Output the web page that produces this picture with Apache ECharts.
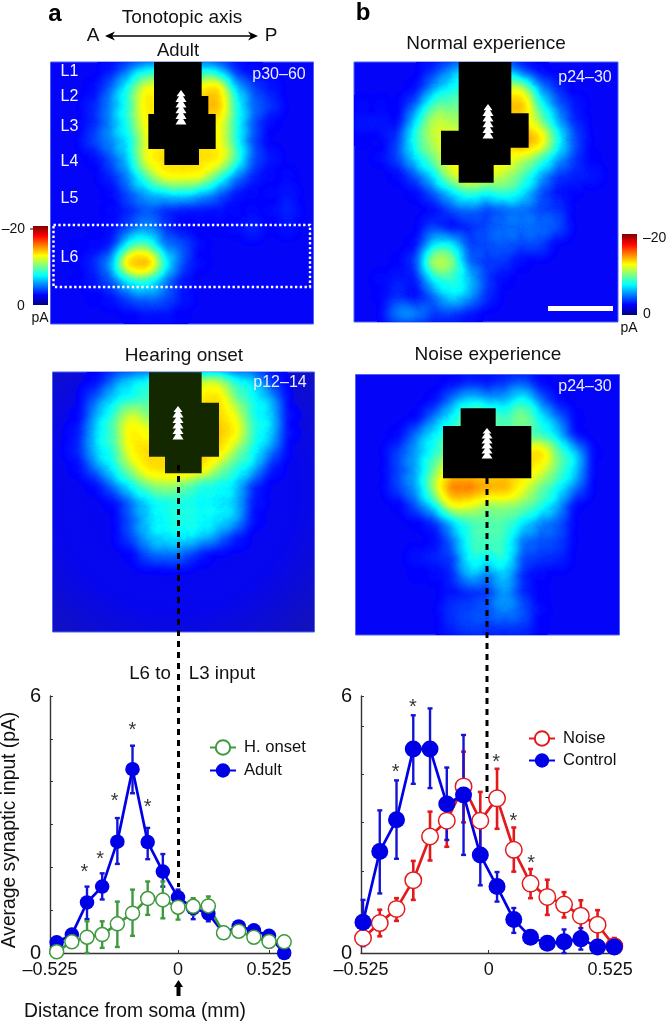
<!DOCTYPE html>
<html><head><meta charset="utf-8">
<style>html,body{margin:0;padding:0;background:#fff}#c{width:666px;height:1022px}</style>
<script src="https://cdn.jsdelivr.net/npm/echarts@6/dist/echarts.min.js"></script>
</head><body><div id="c"></div>
<script>
// ---- heat maps: 15 x 15 stimulation grid, pA magnitude above background ----
const mapAdult = [
[0,0,0,1,4,7,7,7,7,6,1.5,.5,0,0,0],
[0,0,.5,3.5,8,13,12,12,13,15,6,2.5,1,0,0],
[0,0,1.5,4.5,8,14,13,13,15,16,8,3.5,2,0,0],
[0,0,1.5,4.5,8,13,13,13,13,13,8,3,.5,0,0],
[0,0,2.5,4.5,6.5,12,13,13,13,13,8,2.5,0,0,0],
[0,0,.5,3,6,13,14,14,14,14,9.5,3,1,0,0],
[0,0,0,1.5,4.5,9,13,13,13,9,4.5,1.5,.5,.5,0],
[0,0,0,.5,3,5,6,7,5.5,3.5,1,.5,.5,1,0],
[0,0,0,.5,1.5,3,1.5,.8,.8,.8,.5,.5,.5,1.5,0],
[0,0,.2,.7,2.5,4.5,2,.5,.3,.3,.5,1.5,.3,.8,0],
[0,.2,.5,1,8,9,3.5,3,.5,0,0,0,0,0,0],
[0,.2,1.5,5,16,17,8,2.5,.5,0,0,0,0,0,0],
[0,.2,1,3,7,8,4,1,0,0,0,0,0,0,0],
[0,0,.3,.8,2.5,3.5,3,1,0,0,0,0,0,0,0],
[0,0,0,0,.3,.8,.8,.3,0,0,0,0,0,0,0]];
const mapOnset = [
[0,0,.5,3.5,6,7,8,8,11,11,7,6,1.5,0,0],
[0,0,3,6,7,8,10,10,13,14,9,7,5,0,0],
[0,.3,5,8,12,9,10,11,14,14,12,7,6,.5,0],
[0,1,6,8.5,13.5,12,11,12,14,15,13,7.5,6,.5,0],
[0,1.5,6,7.5,13,14,13,13,14,14,10,7,4,0,0],
[0,.5,4,7,10.5,14,14,15,14,10,7.5,6,1,0,0],
[0,0,.5,4,7,9.5,10.5,9,7,7,6,1.5,0,0,0],
[0,0,0,.5,3.5,6,7,7,6.5,6.5,5.5,1,0,0,0],
[0,0,0,0,3,6,7,7.5,7,6.5,5.5,.5,0,0,0],
[0,0,0,0,2.5,5.5,6.5,6.5,6,4,1,0,0,0,0],
[0,0,0,0,.3,3,3.5,3,.8,0,0,0,0,0,0],
[0,0,0,0,0,0,0,0,0,0,0,0,0,0,0],
[0,0,0,0,0,0,0,0,0,0,0,0,0,0,0],
[0,0,0,0,0,0,0,0,0,0,0,0,0,0,0],
[0,0,0,0,0,0,0,0,0,0,0,0,0,0,0]];
const mapNormal = [
[0,0,0,0,1.5,4.5,6,6,6,2,.5,0,0,0,0],
[0,0,0,.5,4.5,7,8,9,11,12,4.5,1.5,0,0,0],
[.5,.5,.3,3,9,9,9,10,15,16,8,3.5,1,0,0],
[1,1,.3,6.5,11.5,10.5,10,11,13,13,10.5,5.5,1.5,0,0],
[.3,0,2,8,11,12.5,11,11,13,18,15,8,2.5,0,0],
[0,.5,2.5,6.5,9.5,12.5,12,12,13,11,9,5.5,2,.3,0],
[0,0,.5,3,6.5,11.5,13.5,12,11,9,5.5,2,1.5,1,0],
[0,0,0,.5,3,6,8.5,7,8.5,7,3,1,.3,0,0],
[0,0,0,0,.5,2.5,3.5,2,3,3.5,2.5,2,0,0,0],
[0,0,0,0,2,.3,1.5,2.5,3.5,3.5,3.5,3,0,0,0],
[0,0,0,.5,6,7,2,2.5,3,2.5,2.5,0,0,0,0],
[0,0,.3,2,12,11,3,2,2,.5,0,0,0,0,0],
[0,.5,1,1,7,8,6,2,.5,0,0,0,0,0,0],
[0,.3,1.5,.5,3,7,5,1.5,0,0,0,0,0,0,0],
[0,0,4.5,4.5,2,2,1,0,0,0,0,0,0,0,0]];
const mapNoise = [
[0,0,0,0,0,.5,1.5,1,2,3,.5,0,0,0,0],
[0,0,0,0,.5,4,6.5,5,5,8,3.5,.5,0,0,0],
[0,0,0,.3,4,7,10,10,8,10.5,7,3.5,.3,0,0],
[0,0,.5,4,7,8,8,8,8,8,8,6,.5,0,0],
[0,0,2.5,5,7.5,10,10,10,11,13,15,9,6,.3,0],
[0,0,2.5,5,9.5,14,13,13,14,14,12,9,6,0,0],
[0,0,2.5,5,11,18,18,16,16,12,9,7,3.5,0,0],
[0,0,.3,3,7,13,12,9.5,10,9.5,8,5,.3,0,0],
[0,0,0,.3,1.5,5.5,8,8.5,8.5,6.5,4,3,0,0,0],
[0,0,0,0,.5,3.5,8,8.5,8,3.5,3,2.5,0,0,0],
[0,0,0,.8,1.5,2,7.5,7,8,2.5,2,1.5,0,0,0],
[0,0,0,.3,.5,1.5,6,3.5,6,1.5,.5,0,0,0,0],
[0,0,0,0,0,1,1.5,2,5,1.5,.3,0,0,0,0],
[0,0,0,0,0,2,2.5,3,4.5,3,.5,0,0,0,0],
[0,0,0,0,0,1.5,2.5,2,2,2,.3,0,0,0,0]];

// ---- panel a line chart ----
const xA = [0,1,2,3,4,5,6,7,8,9,10,11,12,13,14,15];
const adult = [.25,.43,1.18,1.55,2.6,4.29,2.59,1.9,1.3,1.05,.92,.47,.62,.53,.4,0];
const adultLow = [.2,.38,.79,1.25,2.08,3.73,2.19,1.55,1.12,.79,.74,.42,.55,.47,.35,0];
const adultHigh = [.3,.48,1.55,1.86,3.15,4.84,2.92,2.31,1.48,1.24,1.09,.52,.69,.59,.45,0];
const onset = [.03,.26,.37,.43,.68,.93,1.27,1.24,1.07,1.09,1.1,.47,.51,.37,.27,.26];
const onsetLow = [.01,.2,0,.12,.14,.4,.89,.81,.78,.89,.85,.42,.45,.32,.22,.21];
const onsetHigh = [.05,.32,.74,.74,1.2,1.48,1.67,1.67,1.32,1.28,1.32,.52,.57,.42,.32,.31];
const starsA = [[1.82,1.98],[2.86,2.28],[3.82,3.63],[5,5.28],[6,3.48]];
// ---- panel b line chart ----
const noise = [.35,.7,1.03,1.7,2.72,3.09,3.89,3.09,3.61,2.41,1.62,1.31,1.13,.87,.66,.16];
const noiseLow = [.2,.39,.75,1.24,2.16,2.48,3.05,2.41,2.9,1.9,1.28,.89,.83,.5,.23,0];
const noiseHigh = [.5,1.01,1.28,2.15,3.3,3.3,4.7,3.76,4.3,2.93,1.96,1.71,1.42,1.23,1.0,.35];
const control = [.72,2.37,3.11,4.76,4.76,3.48,3.69,2.29,1.55,.78,.37,.23,.26,.33,.14,.14];
const controlLow = [.16,1.39,2.2,3.95,3.85,2.64,2.29,1.58,1.2,.47,.25,.1,0,.08,.05,.05];
const controlHigh = [1.24,3.33,4.03,5.55,5.71,4.33,5.09,3.0,1.89,1.05,.5,.36,.55,.58,.25,.25];
const starsB = [[1.95,4.31],[2.98,5.83],[7.95,4.55],[8.97,3.16],[10.04,2.19]];

const xTickA = [-0.44,8,14], xTickB = [-0.12,7.5,14.75];
const xLabels = ['–0.525','0','0.525'];
const yMinorA = [0,1,2,3,4,5,6], yMinorB = [0,.79,1.92,3.05,4.17,5.3,6];

// ---- jet palette ----
const clamp = v => Math.max(0, Math.min(1, v));
const jet = t => { const c = x => Math.round(255 * clamp(1.5 - Math.abs(4 * t - x))); return `rgb(${c(3)},${c(2)},${c(1)})`; };
const GAIN = 0.66;
const palette = [];
for (let k = 0; k < 160; k++) {
  const A = k / 159; let f = A >= 1 ? 1 : clamp(-Math.log(1 - A) / GAIN);
  if (f > 0.55) f = 0.55 + (f - 0.55) * 0.55;
  palette.push(jet(0.125 + 0.875 * f));
}
const FONT = '"Liberation Sans", Arial, sans-serif';
const flatBlue = '#0404f8';
const dimBlue = {type: 'radial', x: .47, y: .45, r: .78, colorStops: [{offset: 0, color: '#0404f8'}, {offset: .6, color: '#0606ee'}, {offset: 1, color: '#1414b4'}]};
const maps = [
 {d: mapAdult, box: [50.5, 62, 263, 262], area: flatBlue},
 {d: mapOnset, box: [52.5, 372, 262, 260], area: dimBlue},
 {d: mapNormal, box: [354, 62, 264, 260], area: flatBlue},
 {d: mapNoise, box: [355.5, 374.5, 264, 260.5], area: flatBlue}];

echarts.registerMap('sq', {type: 'FeatureCollection', features: [{type: 'Feature', properties: {name: 'sq'},
  geometry: {type: 'Polygon', coordinates: [[[0,0],[15,0],[15,15],[0,15],[0,0]]]}}]});

const geos = maps.map(m => ({map: 'sq', left: m.box[0], top: m.box[1], width: m.box[2], height: m.box[3],
  aspectScale: 1, roam: false, silent: true, label: {show: false},
  itemStyle: {areaColor: m.area, borderColor: '#4f63f2', borderWidth: 1}, emphasis: {disabled: true}}));
const heat = maps.map((m, i) => {
  const data = [];
  m.d.forEach((row, r) => row.forEach((v, c) => { if (v > 0) data.push([c + .5, 14.5 - r, v]); }));
  return {type: 'heatmap', coordinateSystem: 'geo', geoIndex: i, data, pointSize: 8, blurSize: 17, minOpacity: 1, maxOpacity: 1, silent: true};
});

// ---- line chart helpers ----
function errBars(name, xs, lo, hi, color, xi, yi, w) {
  return {type: 'custom', xAxisIndex: xi, yAxisIndex: yi, silent: true, clip: false,
    data: xs.map((x, i) => [x, lo[i], hi[i]]), encode: {x: 0, y: [1, 2]},
    renderItem(p, api) {
      const a = api.coord([api.value(0), api.value(1)]), b = api.coord([api.value(0), api.value(2)]);
      const s = {stroke: color, lineWidth: w, fill: null};
      return {type: 'group', children: [
        {type: 'line', shape: {x1: a[0], y1: a[1], x2: b[0], y2: b[1]}, style: s},
        {type: 'line', shape: {x1: a[0]-2.5, y1: a[1], x2: a[0]+2.5, y2: a[1]}, style: s},
        {type: 'line', shape: {x1: b[0]-2.5, y1: b[1], x2: b[0]+2.5, y2: b[1]}, style: s}]};
    }};
}
function line(name, xs, ys, color, filled, size, xi, yi) {
  return {type: 'line', name, xAxisIndex: xi, yAxisIndex: yi, clip: false, silent: true,
    data: xs.map((x, i) => [x, ys[i]]), symbol: 'circle', symbolSize: size,
    lineStyle: {color, width: 2.7}, showSymbol: true,
    itemStyle: filled ? {color} : {color: '#fff', borderColor: color, borderWidth: 1.5}};
}
function stars(data, xi, yi) {
  return {type: 'scatter', xAxisIndex: xi, yAxisIndex: yi, clip: false, silent: true, data, symbolSize: 1,
    itemStyle: {color: 'transparent'},
    label: {show: true, formatter: '*', position: 'inside', offset: [0, 4], color: '#000', fontSize: 20, fontFamily: FONT}};
}
const axisCol = '#333';
function xAxis(grid, min, max, ticks) {
  return {type: 'value', gridIndex: grid, min, max, splitLine: {show: false},
    axisLine: {show: true, onZero: false, lineStyle: {color: axisCol, width: 1.4}},
    axisTick: {show: true, inside: true, length: 3, customValues: ticks, lineStyle: {color: axisCol}},
    axisLabel: {show: true, customValues: ticks, margin: 8, color: '#111', fontSize: 18, fontFamily: FONT,
      showMinLabel: true, showMaxLabel: true, hideOverlap: false,
      formatter: v => xLabels[ticks.indexOf(v)]}};
}
function yAxis(grid, minor) {
  return {type: 'value', gridIndex: grid, min: 0, max: 6, splitLine: {show: false},
    axisLine: {show: true, onZero: false, lineStyle: {color: axisCol, width: 1.4}},
    axisTick: {show: true, inside: true, length: 3, customValues: minor, lineStyle: {color: axisCol}},
    axisLabel: {show: true, customValues: [0, 6], margin: 9, color: '#111', fontSize: 20, fontFamily: FONT}};
}

// ---- decorations ----
const T = (text, x, y, size, o = {}) => ({type: 'text', z: 50, silent: true, x, y, rotation: o.rot || 0,
  style: {text, fill: o.fill || '#111', fontSize: size, fontFamily: FONT, fontWeight: o.w || 'normal',
    align: o.align || 'center', verticalAlign: 'middle'}});
const poly = (pts, fill, z = 30) => ({type: 'polygon', z, silent: true, shape: {points: pts}, style: {fill}});
const zoomPts = (pts, ox, oy) => pts.map(p => [ox + p[0] / 3, oy + p[1] / 3]);
const neuron = (x, y0, y1) => {
  const out = [], n = 6, h = (y1 - y0) / n;
  for (let i = 0; i < n; i++) {
    const y = y0 + h * i, w = i === 0 ? 4.5 : 5.5;
    out.push(poly([[x, y - (i ? h * .5 : 0)], [x + w, y + h * 1.1], [x - w, y + h * 1.1]], '#fff', 35));
  }
  return out;
};
const dash = (x, y1, y2) => ({type: 'line', z: 40, silent: true, shape: {x1: x, y1, x2: x, y2},
  style: {stroke: '#000', lineWidth: 3, lineDash: [6, 5]}});
const jetStops = [0,.125,.25,.375,.5,.625,.75,.875,1].map(t => ({offset: 1 - t, color: jet(t)}));
const bar = (x, y, w, h) => ({type: 'rect', z: 30, silent: true, shape: {x, y, width: w, height: h},
  style: {fill: new echarts.graphic.LinearGradient(0, 0, 0, 1, jetStops)}});

const els = [
  T('a', 55, 14, 24, {w: 'bold', fill: '#000'}), T('b', 363, 13, 24, {w: 'bold', fill: '#000'}),
  T('Tonotopic axis', 182, 18, 19), T('A', 93, 36, 19), T('P', 271, 36, 19), T('Adult', 178, 51, 18.5),
  T('Normal experience', 486, 44, 19), T('Hearing onset', 184, 356, 19), T('Noise experience', 488, 355, 19),
  {type: 'line', z: 40, silent: true, shape: {x1: 109, y1: 36, x2: 254, y2: 36}, style: {stroke: '#000', lineWidth: 1.6}},
  poly([[105, 36], [115, 31.5], [112, 36], [115, 40.5]], '#000', 40), poly([[258, 36], [248, 31.5], [251, 36], [248, 40.5]], '#000', 40),
  T('p30–60', 279, 75, 16, {fill: '#e8eeff'}), T('p24–30', 585, 78, 16, {fill: '#e8eeff'}),
  T('p12–14', 280, 383, 16, {fill: '#e8eeff'}), T('p24–30', 585, 387, 16, {fill: '#e8eeff'}),
  ...[['L1',72],['L2',97],['L3',127],['L4',162],['L5',199],['L6',258]].map(l => T(l[0], 69.5, l[1], 16, {fill: '#f4f6ff'})),
  bar(33, 226, 15, 79), bar(622, 234, 15, 81),
  T('–20', 25, 229, 14, {align: 'right'}), T('0', 21, 306, 14), T('pA', 40, 318, 14),
  {type: 'line', z: 30, silent: true, shape: {x1: 30, y1: 229, x2: 33, y2: 229}, style: {stroke: '#111', lineWidth: 1}},
  T('–20', 643, 238, 14, {align: 'left'}), T('0', 647, 314, 14), T('pA', 629, 328, 14),
  {type: 'rect', z: 35, silent: true, shape: {x: 53.5, y: 225, width: 256.5, height: 62},
    style: {fill: null, stroke: '#fff', lineWidth: 2.4, lineDash: [2.4, 2.4]}},
  {type: 'rect', z: 35, silent: true, shape: {x: 548, y: 306, width: 65, height: 5}, style: {fill: '#fff'}},
  poly(zoomPts([[462,186],[605,186],[605,288],[625,288],[625,342],[647,342],[647,447],[597,447],[597,495],[493,495],[493,447],[445,447],[445,342],[462,342]],0,0), '#000'),
  poly(zoomPts([[377,186],[535,186],[535,340],[587,340],[587,443],[533,443],[533,495],[482,495],[482,548],[377,548],[377,495],[324,495],[324,392],[377,392]],333,0), '#000'),
  poly(zoomPts([[447,97],[605,97],[605,188],[657,188],[657,350],[605,350],[605,400],[495,400],[495,350],[447,350]],0,340), '#142800'),
  poly(zoomPts([[383,205],[488,205],[488,258],[595,258],[595,415],[330,415],[330,258],[383,258]],333,340), '#000'),
  ...neuron(181, 90, 124), ...neuron(488, 104, 138), ...neuron(178, 406, 439), ...neuron(487, 428, 458),
  dash(178.5, 465, 887), dash(487, 478, 798),
  T('L6 to', 150, 674, 18.7), T('L3 input', 222, 674, 18.7),
  T('Average synaptic input (pA)', 10, 830, 19.3, {rot: Math.PI / 2}),
  T('Distance from soma (mm)', 135, 1012, 19.3),
  poly([[178.5, 980], [183, 987], [180.5, 987], [180.5, 996], [176.5, 996], [176.5, 987], [174, 987]], '#000', 40)
];

const chart = echarts.init(document.getElementById('c'), null, {renderer: 'canvas'});
chart.setOption({
  animation: false, backgroundColor: '#fff',
  geo: geos,
  visualMap: {type: 'continuous', show: false, min: 0, max: 20, seriesIndex: [0, 1, 2, 3], inRange: {color: palette}},
  grid: [{left: 50, top: 696, width: 234.2, height: 257}, {left: 361, top: 696, width: 255, height: 257}],
  xAxis: [xAxis(0, -0.44, 15, xTickA), xAxis(1, -0.12, 15.1, xTickB)],
  yAxis: [yAxis(0, yMinorA), yAxis(1, yMinorB)],
  legend: [
    {data: ['H. onset', 'Adult'], orient: 'vertical', left: 204, top: 734, itemWidth: 26, itemHeight: 18, itemGap: 6, selectedMode: false,
      textStyle: {fontSize: 16.6, color: '#111', fontFamily: FONT, padding: [0, 0, 0, 3]}},
    {data: ['Noise', 'Control'], orient: 'vertical', left: 523, top: 725, itemWidth: 26, itemHeight: 18, itemGap: 5, selectedMode: false,
      textStyle: {fontSize: 16.6, color: '#111', fontFamily: FONT, padding: [0, 0, 0, 3]}}],
  graphic: {elements: els},
  series: [...heat,
    errBars('e1', xA, adultLow, adultHigh, '#1414d8', 0, 0, 2.4),
    line('Adult', xA, adult, '#0000e6', true, 14.5, 0, 0),
    errBars('e2', xA, onsetLow, onsetHigh, '#3f9a3f', 0, 0, 2.4),
    line('H. onset', xA, onset, '#3f9a3f', false, 14, 0, 0),
    stars(starsA, 0, 0),
    errBars('e3', xA, noiseLow, noiseHigh, '#e31a1c', 1, 1, 2.6),
    line('Noise', xA, noise, '#e31a1c', false, 16.5, 1, 1),
    errBars('e4', xA, controlLow, controlHigh, '#1414d8', 1, 1, 2.4),
    line('Control', xA, control, '#0000e6', true, 17, 1, 1),
    stars(starsB, 1, 1)]
});
</script></body></html>
